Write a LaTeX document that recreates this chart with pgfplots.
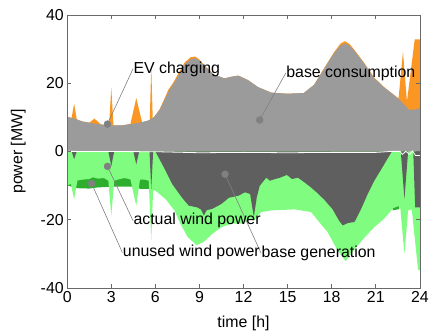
\documentclass[border=0pt]{standalone}
\usepackage{pgfplots}
\pgfplotsset{compat=1.18}
\usepackage{pgfplotstable}
\usepgfplotslibrary{fillbetween}
\usepackage{fontspec}
\setmainfont{Liberation Sans}
\definecolor{consgray}{RGB}{155,155,155}
\definecolor{evorange}{RGB}{250,150,35}
\definecolor{gengray}{RGB}{95,95,95}
\definecolor{windgreen}{RGB}{128,252,128}
\definecolor{unusedgreen}{RGB}{45,175,45}
\definecolor{dotgray}{RGB}{128,128,128}
\definecolor{framegray}{RGB}{105,105,105}

\pgfplotstableread{
t v
0 10.1
0.5 9.6
1.0 8.8
1.9 8.1
2.8 7.6
3.7 7.6
4.8 8.3
5.5 9.0
5.9 10.0
6.3 12.2
6.9 17.5
7.6 22.4
8.0 25.5
8.4 27.0
8.7 27.3
9.0 26.6
9.4 24.8
10.0 22.5
10.7 21.4
11.2 21.9
11.65 22.2
12.3 20.9
13.0 18.8
13.9 17.2
15.0 16.9
16.1 17.1
16.8 19.5
17.5 24.3
18.15 28.7
18.6 31.0
18.9 31.6
19.2 31.0
19.5 29.7
20.2 25.8
20.9 21.4
21.55 18.8
22.2 16.6
22.7 14.8
23.25 12.2
23.7 12.2
24.0 12.7
}\cons

\pgfplotstableread{
t v
0 10.1
0.3 9.8
0.47 14.0
0.65 9.4
1.0 8.8
1.5 8.4
1.85 9.6
2.3 7.9
2.85 7.6
3.0 18.7
3.15 7.6
3.7 7.6
4.3 8.0
4.7 15.6
5.1 8.5
5.5 9.0
5.62 9.2
5.72 25.0
5.82 9.6
5.9 10.0
6.3 12.4
6.9 18.2
7.2 20.0
7.6 23.1
8.0 26.1
8.4 27.6
8.7 27.8
9.0 26.9
9.4 24.9
10.0 22.5
10.7 21.4
11.2 21.9
11.65 22.2
12.3 20.9
13.0 18.8
13.9 17.2
15.0 16.9
16.1 17.1
16.8 19.5
17.5 24.5
18.15 29.0
18.6 31.6
18.9 32.3
19.2 31.5
19.5 30.0
20.2 26.0
20.9 21.6
21.55 18.9
22.2 16.7
22.55 15.5
22.85 29.2
23.12 14.6
23.65 32.8
24.0 32.8
}\ev

\pgfplotstableread{
t v
0 0
0.3 0
0.47 -2.3
0.65 0
2.8 0
3.0 -4.3
3.2 0
4.5 0
4.7 -3.8
4.9 0
5.6 0
5.72 -11
5.85 0
6.0 0
6.7 -5.7
7.15 -9.6
7.8 -13.5
8.27 -15.9
8.83 -16.4
9.1 -17.0
9.3 -18.8
9.5 -17.2
9.85 -16.9
10.5 -15.4
11.0 -13.6
11.65 -13.0
12.1 -12.0
12.45 -12.5
12.7 -19.3
12.9 -13.5
13.1 -10.1
13.55 -7.7
13.8 -8.6
14.15 -8.1
14.5 -7.7
14.95 -6.9
15.3 -8.1
15.7 -7.7
16.15 -9.1
16.6 -10.6
17.05 -12.3
17.5 -14.2
18.05 -16.9
18.5 -20.3
18.75 -21.7
19.1 -21.0
19.55 -20.7
20.0 -16.9
20.45 -12.5
20.9 -8.6
21.45 -4.7
21.9 -1.4
22.1 0
22.7 0
22.95 -14
23.2 0
23.55 0
23.68 -16.4
24 -16.4
}\gen

\pgfplotstableread{
t v
0 -10.0
0.25 -9.5
0.47 -14.0
0.7 -8.5
1.0 -8.3
1.5 -8.1
1.75 -7.6
2.1 -8.0
2.5 -7.8
2.8 -8.6
3.0 -18.8
3.2 -8.6
3.5 -8.2
3.9 -7.8
4.3 -8.2
4.7 -15.9
4.95 -8.3
5.3 -8.3
5.55 -8.6
5.72 -26
5.85 -11.0
6.0 -11.5
6.7 -14
7.3 -17.3
7.7 -21.2
8.2 -25.1
8.8 -27.5
9.3 -26.5
9.9 -24.1
10.5 -22.2
11.2 -21.2
11.9 -21.2
12.5 -20.0
12.7 -20.3
13.2 -17.8
13.9 -17.3
15.5 -17.0
16.6 -17.8
17.3 -21.5
17.7 -23.5
18.4 -29.0
18.95 -32.2
19.5 -29.0
20.2 -25.4
20.9 -22.2
21.55 -19.8
22.2 -16.6
22.65 -15.9
22.95 -30.0
23.2 -17.3
23.45 -17.0
23.88 -34.8
24 -34.8
}\wind

\pgfplotstableread{
t v
0 -10.0
0.7 -10.8
1.5 -10.9
2.0 -10.6
2.8 -10.4
3.2 -10.3
4.5 -10.3
5.0 -11.0
5.6 -11.0
5.9 -11.2
6.0 -11.5
6.05 0
22.1 0
22.15 -17.3
22.6 -16.9
22.75 0
24 0
}\unused

\pgfplotstableread{
t v
0 0
6 -0.1
9 -0.4
12 -0.3
15 -0.4
18 -0.3
21 -0.3
22.1 0
22.65 0
22.8 -0.9
23.05 0
23.3 -0.9
23.5 0.1
23.7 -1.2
24 -1.2
}\netline

\begin{document}
\begin{tikzpicture}[font=\fontsize{16}{19}\selectfont]
\begin{axis}[
  at={(67.7pt,47pt)}, anchor=south west,
  scale only axis, width=355.3pt, height=275pt,
  xmin=0, xmax=24, ymin=-40, ymax=40,
  xtick={0,3,...,24}, ytick={-40,-20,0,20,40},
  tick align=inside, major tick length=4pt,
  axis line style={framegray, line width=0.6pt},
  tick style={framegray, line width=0.6pt},
  axis on top,
  /pgf/number format/assume math mode=true,
  tick label style={font=\fontsize{16}{19}\selectfont, text=black},
  label style={font=\fontsize{16}{19}\selectfont},
  xlabel={time [h]}, ylabel={power [MW]},
  xlabel style={at={(axis description cs:0.5,-0.131)}, anchor=center},
  ylabel style={at={(axis description cs:-0.139,0.5)}, anchor=center},
]
\addplot[draw=none, name path=zero] coordinates {(0,0) (24,0)};
\addplot[draw=none, name path=ev] table[x=t, y=v] {\ev};
\addplot[draw=none, name path=cons] table[x=t, y=v] {\cons};
\addplot[draw=none, name path=unused] table[x=t, y=v] {\unused};
\addplot[draw=none, name path=wind] table[x=t, y=v] {\wind};
\addplot[draw=none, name path=gen] table[x=t, y=v] {\gen};

\addplot[fill=evorange, draw=none] fill between[of=ev and zero];
\addplot[fill=consgray, draw=none] fill between[of=cons and zero];
\addplot[fill=unusedgreen, draw=none] fill between[of=unused and zero];
\addplot[fill=windgreen, draw=none] fill between[of=wind and zero];
\addplot[fill=gengray, draw=none] fill between[of=gen and zero];

\addplot[white, line width=0.8pt] table[x=t, y=v] {\netline};

% callout leader lines
\addplot[dotgray, line width=0.6pt] coordinates {(2.74,8.0) (4.48,24.2)};
\addplot[dotgray, line width=0.6pt] coordinates {(13.1,9.2) (14.88,23.0)};
\addplot[dotgray, line width=0.6pt] coordinates {(2.74,-4.4) (4.48,-20.3)};
\addplot[dotgray, line width=0.6pt] coordinates {(1.66,-9.4) (3.76,-29.7)};
\addplot[dotgray, line width=0.6pt] coordinates {(10.74,-6.7) (13.2,-29.9)};
\addplot[only marks, mark=*, mark size=3.5pt, dotgray, mark options={draw=none, fill=dotgray}]
  coordinates {(2.74,8.0) (13.1,9.2) (2.74,-4.4) (1.66,-9.4) (10.74,-6.7)};

\node[anchor=west, inner sep=0pt] at (axis cs:4.5,24.0) {EV charging};
\node[anchor=west, inner sep=0pt] at (axis cs:14.9,22.8) {base consumption};
\node[anchor=west, inner sep=0pt] at (axis cs:4.5,-20.3) {actual wind power};
\node[anchor=west, inner sep=0pt] at (axis cs:3.78,-29.7) {unused wind power};
\node[anchor=west, inner sep=0pt] at (axis cs:13.22,-29.9) {base generation};
\end{axis}
\path (0,0) rectangle (432pt,337pt);
\end{tikzpicture}
\end{document}
